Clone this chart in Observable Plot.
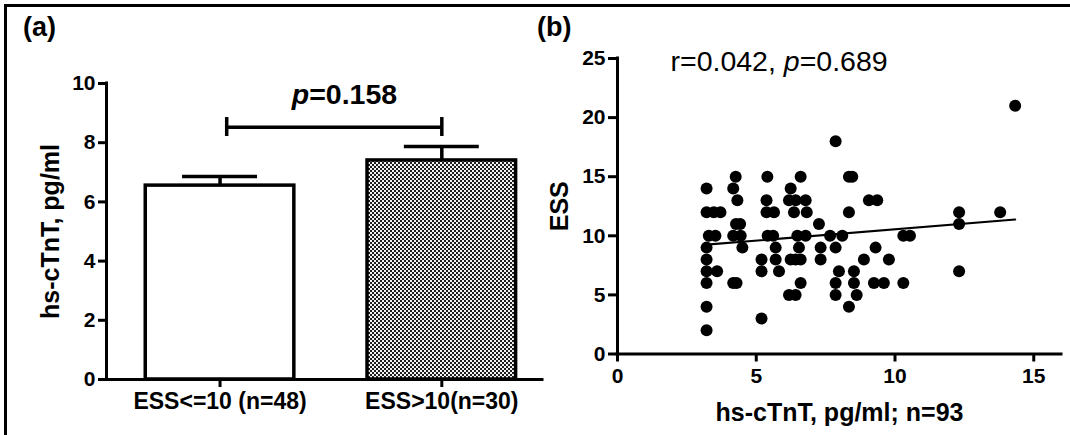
<!DOCTYPE html>
<html>
<head>
<meta charset="utf-8">
<script src="https://cdn.jsdelivr.net/npm/d3@7"></script>
<script src="https://cdn.jsdelivr.net/npm/@observablehq/plot@0.6"></script>
<style>
  html, body { margin: 0; padding: 0; background: #fff; }
  #fig { position: relative; width: 1070px; height: 435px; overflow: hidden;
         font-family: "Liberation Sans", Arial, Helvetica, sans-serif; }
  #border { position: absolute; left: 4px; top: 4px; width: 1080px; height: 440px;
            border-top: 3px solid #000; border-left: 3px solid #000; }
  .panel { position: absolute; top: 0; }
  #pa { left: 0; }
  #pb { left: 540px; }
  .tag { position: absolute; font-weight: bold; font-size: 27px; line-height: 1; color: #000; }
</style>
</head>
<body>
<svg width="0" height="0" style="position:absolute">
  <defs>
    <pattern id="checker" width="4" height="4" patternUnits="userSpaceOnUse">
      <rect width="4" height="4" fill="#f2f2f2"></rect>
      <rect width="2" height="2" fill="#1e1e1e"></rect>
      <rect x="2" y="2" width="2" height="2" fill="#1e1e1e"></rect>
    </pattern>
  </defs>
</svg>
<div id="fig">
  <div id="border"></div>
  <div class="panel" id="pa"></div>
  <div class="panel" id="pb"></div>
  <div class="tag" style="left:23px; top:14px">(a)</div>
  <div class="tag" style="left:537px; top:14px">(b)</div>
</div>
<script>
// ---------- Panel (a) data ----------
const groupLabels = ["ESS<=10 (n=48)", "ESS>10(n=30)"];
const groupMeans = [6.55, 7.40];
const groupSEM = [0.31, 0.47];
const yTicksA = [0, 2, 4, 6, 8, 10];
const yTitleA = "hs-cTnT, pg/ml";
const compareText = "p=0.158";
const bracketLevel = 8.52;

// ---------- Panel (b) data ----------
const cTnT = [
  3.21, 3.21, 3.47, 3.71, 3.29, 3.53, 3.21, 3.21, 3.21, 3.59, 3.21, 3.21, 3.21,
  4.26, 4.17, 4.32, 4.27, 4.42, 4.17, 4.44, 4.50, 4.17, 4.29,
  5.40, 5.37, 5.37, 5.64, 5.41, 5.61, 5.70, 5.19, 5.70, 5.19, 5.82, 5.19,
  6.60, 6.24, 6.18, 6.42, 6.78, 6.36, 6.82, 6.48, 6.78, 6.54, 6.24, 6.42, 6.60, 6.60, 6.18, 6.42,
  7.26, 7.66, 7.32, 7.32,
  7.86, 8.34, 8.46, 8.34, 8.10, 7.86, 7.98, 8.52, 7.86, 8.52, 7.86, 8.62, 8.34, 8.88,
  9.06, 9.36, 9.30, 9.78, 9.24, 9.60, 10.30, 10.54, 10.30,
  12.31, 12.31, 12.31, 13.79, 14.33
];
const ess = [
  14, 12, 12, 12, 10, 10, 9, 8, 7, 7, 6, 4, 2,
  15, 14, 13, 11, 11, 10, 10, 9, 6, 6,
  15, 13, 12, 12, 10, 10, 9, 8, 8, 7, 7, 3,
  15, 14, 13, 13, 13, 12, 12, 10, 10, 9, 8, 8, 8, 6, 5, 5,
  11, 10, 9, 8,
  18, 15, 15, 12, 10, 9, 7, 7, 6, 6, 5, 5, 4, 8,
  13, 13, 9, 8, 6, 6, 10, 10, 6,
  12, 11, 7, 12, 21
];
const fitX = [3.21, 14.33];
const fitY = [9.25, 11.38];
const xTicksB = [0, 5, 10, 15];
const yTicksB = [0, 5, 10, 15, 20, 25];
const xTitleB = "hs-cTnT, pg/ml; n=93";
const yTitleB = "ESS";
const corrText = "r=0.042, p=0.689";

const FONT = '"Liberation Sans", Arial, Helvetica, sans-serif';
const groups = groupLabels.map((label, k) => ({label, pos: k + 1, mean: groupMeans[k], sem: groupSEM[k]}));
const points = cTnT.map((x, i) => ({x, y: ess[i]}));
const fit = fitX.map((x, i) => ({x, y: fitY[i]}));

function italicP(svg) {
  const ns = "http://www.w3.org/2000/svg";
  svg.querySelectorAll("text").forEach(t => {
    if (t.children.length) return;
    const s = t.textContent;
    const k = s.indexOf("p=");
    if (k < 0) return;
    t.textContent = "";
    if (k > 0) t.appendChild(document.createTextNode(s.slice(0, k)));
    const ts = document.createElementNS(ns, "tspan");
    ts.setAttribute("font-style", "italic");
    ts.textContent = "p";
    t.appendChild(ts);
    t.appendChild(document.createTextNode(s.slice(k + 1)));
  });
  return svg;
}

const baseStyle = {background: "transparent", fontFamily: FONT, fontWeight: "bold", fontSize: "21px", color: "black", overflow: "visible"};

// ---------- Panel (a) ----------
const barHalf = 0.335, capHalf = 0.169;
const xDomA = [0.488, 2.454];
const plotA = Plot.plot({
  width: 545, height: 435,
  marginLeft: 106, marginRight: 3, marginTop: 83, marginBottom: 56,
  style: baseStyle,
  x: {domain: xDomA},
  y: {domain: [0, 10]},
  marks: [
    Plot.rectY(groups.slice(0, 1), {x1: d => d.pos - barHalf, x2: d => d.pos + barHalf, y1: 0, y2: "mean",
      fill: "white", stroke: "black", strokeWidth: 3.5}),
    Plot.rectY(groups.slice(1), {x1: d => d.pos - barHalf, x2: d => d.pos + barHalf, y1: 0, y2: "mean",
      fill: "url(#checker)", stroke: "black", strokeWidth: 3.5}),
    Plot.ruleX(groups, {x: "pos", y1: "mean", y2: d => d.mean + d.sem, strokeWidth: 3.5}),
    Plot.ruleY(groups, {y: d => d.mean + d.sem, x1: d => d.pos - capHalf, x2: d => d.pos + capHalf, strokeWidth: 3.5}),
    Plot.ruleY([bracketLevel], {y: d => d, x1: 1.03, x2: 2, strokeWidth: 3.5}),
    Plot.ruleX([1.03, 2], {x: d => d, y1: bracketLevel - 0.31, y2: bracketLevel + 0.33, strokeWidth: 3.5}),
    Plot.text([compareText], {text: d => d, x: 1.561, y: 9.63, fontSize: 28.5, fontWeight: "bold",
      textAnchor: "middle", lineAnchor: "middle"}),
    Plot.axisY({ticks: yTicksA, tickSize: 8, tickPadding: 3, strokeWidth: 3, label: null,
      fontSize: 21, fontWeight: "bold"}),
    Plot.axisX({ticks: [1, 2], tickFormat: d => groupLabels[d - 1], tickSize: 8, tickPadding: 5,
      strokeWidth: 3, label: null, fontSize: 23, fontWeight: "bold"}),
    Plot.ruleX([xDomA[0]], {strokeWidth: 3, strokeLinecap: "square"}),
    Plot.ruleY([0], {strokeWidth: 3, strokeLinecap: "square"}),
    Plot.text([yTitleA], {text: d => d, frameAnchor: "left", dx: -56, rotate: -90, fontSize: 25,
      fontWeight: "bold", textAnchor: "middle", lineAnchor: "middle"})
  ]
});
document.getElementById("pa").appendChild(italicP(plotA));

// ---------- Panel (b) ----------
const plotB = Plot.plot({
  width: 530, height: 435,
  marginLeft: 77, marginRight: 9, marginTop: 58, marginBottom: 81.5,
  style: baseStyle,
  x: {domain: [0, 16]},
  y: {domain: [0, 25]},
  marks: [
    Plot.axisY({ticks: yTicksB, tickSize: 9, tickPadding: 3, strokeWidth: 3, label: null,
      fontSize: 21, fontWeight: "bold"}),
    Plot.axisX({ticks: xTicksB, tickSize: 8, tickPadding: 6, strokeWidth: 3, label: null,
      fontSize: 21, fontWeight: "bold"}),
    Plot.ruleX([0], {strokeWidth: 3, strokeLinecap: "square"}),
    Plot.ruleY([0], {strokeWidth: 3, strokeLinecap: "square"}),
    Plot.dot(points, {x: "x", y: "y", r: 6, fill: "black"}),
    Plot.line(fit, {x: "x", y: "y", stroke: "black", strokeWidth: 2.2}),
    Plot.text([corrText], {text: d => d, x: 1.91, y: 24.7, fontSize: 28.5, fontWeight: "normal",
      textAnchor: "start", lineAnchor: "middle"}),
    Plot.text([xTitleB], {text: d => d, frameAnchor: "bottom", dy: 59, fontSize: 25,
      fontWeight: "bold", textAnchor: "middle", lineAnchor: "middle"}),
    Plot.text([yTitleB], {text: d => d, frameAnchor: "left", dx: -57.5, rotate: -90, fontSize: 25,
      fontWeight: "bold", textAnchor: "middle", lineAnchor: "middle"})
  ]
});
document.getElementById("pb").appendChild(italicP(plotB));
</script>
</body>
</html>
